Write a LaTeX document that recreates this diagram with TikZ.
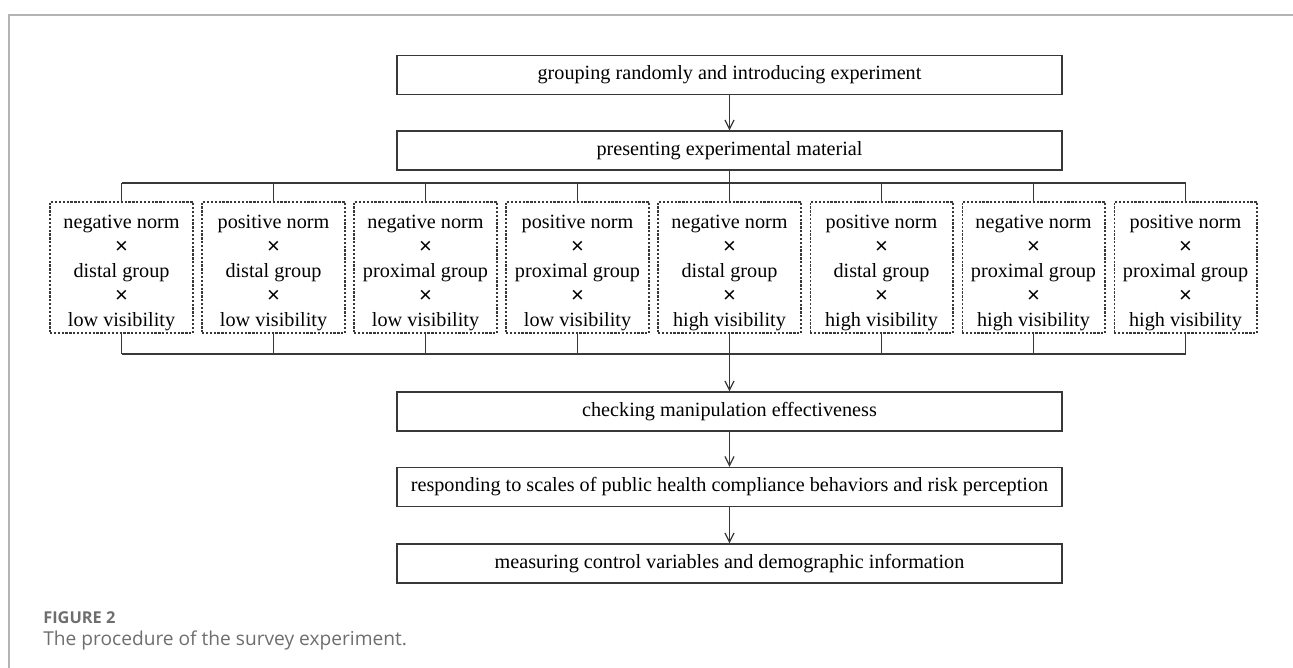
\documentclass[tikz,border=0pt]{standalone}
\usepackage{fontspec}
\setmainfont{Liberation Serif}
\newfontfamily\capfont{Open Sans}
\newfontfamily\crossfont{Liberation Sans}
\newcommand{\by}{{\crossfont\fontsize{12.5}{13.9}\selectfont ×}}
\usetikzlibrary{arrows.meta}
\definecolor{framegray}{HTML}{B4B4B4}
\definecolor{capgray}{HTML}{6E6E6E}

\begin{document}
\begin{tikzpicture}[x=0.02cm, y=-0.02cm,
        stepbox/.style={draw=black!78, line width=0.75pt, minimum width=13.3cm, minimum height=0.78cm,
            inner sep=0pt, font=\fontsize{11.5}{13.9}\selectfont},
        condbox/.style={draw=black!78, line width=0.6pt, dash pattern=on 1.3pt off 0.9pt,
            minimum width=2.86cm, minimum height=2.62cm, inner sep=0pt, align=center,
            font=\fontsize{11.5}{13.9}\selectfont},
        link/.style={draw=black!78, line width=0.7pt},
        arr/.style={link, -{Straight Barb[length=1.8mm, width=1.8mm]}}]
    \useasboundingbox (0,0) rectangle (1293,668);
    % frame of the figure
    \draw[framegray, line width=1.1pt] (9,668) -- (9,15) -- (1293,15);

    \node[stepbox] (group) at (729.5,75) {grouping randomly and introducing experiment};
    \node[stepbox] (present) at (729.5,150.5) {presenting experimental material};

    % conditions, text set a little below the middle of the box
    \node[condbox] (c1) at ( 121.5,267.5) {\rule{0pt}{14pt}negative norm\\ \by\\ distal group\\ \by\\ low visibility};
    \node[condbox] (c2) at ( 273.5,267.5) {\rule{0pt}{14pt}positive norm\\ \by\\ distal group\\ \by\\ low visibility};
    \node[condbox] (c3) at ( 425.5,267.5) {\rule{0pt}{14pt}negative norm\\ \by\\ proximal group\\ \by\\ low visibility};
    \node[condbox] (c4) at ( 577.5,267.5) {\rule{0pt}{14pt}positive norm\\ \by\\ proximal group\\ \by\\ low visibility};
    \node[condbox] (c5) at ( 729.5,267.5) {\rule{0pt}{14pt}negative norm\\ \by\\ distal group\\ \by\\ high visibility};
    \node[condbox] (c6) at ( 881.5,267.5) {\rule{0pt}{14pt}positive norm\\ \by\\ distal group\\ \by\\ high visibility};
    \node[condbox] (c7) at (1033.5,267.5) {\rule{0pt}{14pt}negative norm\\ \by\\ proximal group\\ \by\\ high visibility};
    \node[condbox] (c8) at (1185.5,267.5) {\rule{0pt}{14pt}positive norm\\ \by\\ proximal group\\ \by\\ high visibility};

    \node[stepbox] (check) at (729.5,411.5) {checking manipulation effectiveness};
    \node[stepbox] (respond) at (729.5,487) {responding to scales of public health compliance behaviors and risk perception};
    \node[stepbox] (measure) at (729.5,563.5) {measuring control variables and demographic information};

    \coordinate (topbus) at (729.5,183);
    \coordinate (botbus) at (729.5,354);

    \draw[arr] (group) -- (present);

    % split to the eight conditions
    \draw[link] (present.south) -- (topbus);
    \draw[link] (c1.north |- topbus) -- (c8.north |- topbus);
    \foreach \i in {1,...,8}
        \draw[link] (c\i.north |- topbus) -- (c\i.north);

    % join the conditions again
    \foreach \i in {1,...,8}
        \draw[link] (c\i.south) -- (c\i.south |- botbus);
    \draw[link] (c1.south |- botbus) -- (c8.south |- botbus);
    \draw[arr] (botbus) -- (check);

    \draw[arr] (check) -- (respond);
    \draw[arr] (respond) -- (measure);

    % caption
    \node[anchor=base west, inner sep=0pt, text=capgray, font=\capfont\bfseries\fontsize{9.3}{10}\selectfont] (figno) at (43,623) {FIGURE 2};
    \node[anchor=base west, inner sep=0pt, text=capgray, font=\capfont\fontsize{10.9}{12}\selectfont] (caption) at (43,645) {The procedure of the survey experiment.};
\end{tikzpicture}
\end{document}
